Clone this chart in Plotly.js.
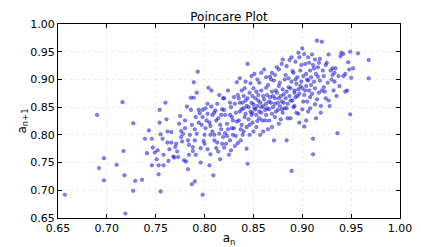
<!DOCTYPE html>
<html>
<head>
<meta charset="utf-8">
<script src="https://cdn.plot.ly/plotly-3.0.1.min.js"></script>
<style>html,body{margin:0;padding:0;background:#fff;}#chart{width:421px;height:247px;}</style>
</head>
<body>
<div id="chart"></div>
<script>
// Poincare plot points [a_n, a_n+1]
const pointsSparse = [
[0.657,0.692],[0.690,0.836],[0.692,0.740],[0.697,0.718],[0.697,0.758],[0.710,0.746],[0.716,0.859],[0.717,0.771],
[0.718,0.727],[0.719,0.658],[0.727,0.821],[0.727,0.699],[0.729,0.717],[0.736,0.719],[0.739,0.793],[0.741,0.767],
[0.743,0.808],[0.746,0.793],[0.746,0.745],[0.747,0.777],[0.749,0.768],[0.751,0.756],[0.752,0.772],[0.753,0.745],
[0.753,0.729],[0.754,0.845],[0.754,0.822],[0.755,0.801],[0.755,0.698],[0.757,0.793],[0.758,0.764],[0.758,0.745],
[0.760,0.858],[0.761,0.828],[0.762,0.806],[0.762,0.786],[0.763,0.753],[0.764,0.774],[0.766,0.805],[0.768,0.761],
[0.769,0.759],[0.770,0.778],[0.771,0.784],[0.773,0.760],[0.774,0.820],[0.775,0.834],[0.776,0.807],[0.777,0.788],
[0.778,0.802],[0.779,0.754],[0.780,0.826],[0.781,0.752],[0.782,0.851],[0.783,0.738],[0.783,0.790],[0.784,0.764],
[0.785,0.800],[0.786,0.845],[0.786,0.867],[0.787,0.818],[0.787,0.711],[0.788,0.778],[0.788,0.771],[0.789,0.895],
[0.789,0.867],[0.790,0.716],[0.790,0.810],[0.791,0.764],[0.791,0.832],[0.792,0.876],[0.793,0.914],[0.794,0.845],
[0.795,0.839],[0.796,0.750],[0.797,0.818],[0.798,0.692],[0.798,0.845],[0.799,0.789],[0.800,0.800]
];
const pointsMiddle = [
[0.801,0.848],[0.802,0.826],[0.803,0.774],[0.804,0.885],[0.805,0.745],[0.806,0.800],[0.806,0.765],[0.807,0.851],
[0.807,0.880],[0.808,0.836],[0.809,0.727],[0.810,0.790],[0.810,0.840],[0.812,0.826],[0.813,0.786],[0.814,0.770],
[0.815,0.802],[0.815,0.872],[0.816,0.756],[0.817,0.810],[0.818,0.784],[0.819,0.866],[0.820,0.845],[0.820,0.777],
[0.821,0.803],[0.823,0.820],[0.824,0.880],[0.825,0.764],[0.826,0.790],[0.827,0.850],[0.828,0.832],[0.829,0.800],
[0.830,0.812],[0.830,0.868],[0.831,0.780],[0.832,0.840],[0.833,0.895],[0.834,0.785],[0.835,0.826],[0.836,0.858],
[0.837,0.810],[0.838,0.846],[0.838,0.880],[0.839,0.800],[0.840,0.870],[0.841,0.832],[0.842,0.862],[0.843,0.775],
[0.844,0.928],[0.844,0.748],[0.845,0.850],[0.846,0.818],[0.847,0.893],[0.848,0.836],[0.849,0.870],[0.850,0.806],
[0.850,0.855],[0.851,0.910],[0.852,0.846],[0.853,0.878],[0.854,0.825],[0.855,0.862],[0.856,0.894],[0.857,0.800],
[0.858,0.840],[0.858,0.850],[0.860,0.870],[0.861,0.918],[0.862,0.826],[0.863,0.885],[0.864,0.848],[0.865,0.810],
[0.866,0.860],[0.867,0.905],[0.868,0.900],[0.869,0.838],[0.870,0.870],[0.871,0.790],[0.872,0.856],[0.873,0.880],
[0.874,0.922],[0.875,0.845],[0.876,0.866],[0.877,0.894],[0.878,0.828],[0.879,0.860],[0.880,0.936],[0.881,0.873],
[0.882,0.848],[0.883,0.908],[0.884,0.790],[0.885,0.830],[0.886,0.886],[0.887,0.935],[0.888,0.862],[0.889,0.735],
[0.890,0.915],[0.891,0.850],[0.892,0.876],[0.893,0.900],[0.894,0.840],[0.895,0.870],[0.896,0.948],[0.897,0.822],
[0.898,0.888],[0.899,0.926],[0.900,0.956]
];
const pointsRight = [
[0.901,0.860],[0.902,0.815],[0.903,0.880],[0.904,0.910],[0.905,0.900],[0.906,0.842],[0.907,0.930],[0.908,0.868],
[0.909,0.890],[0.910,0.945],[0.911,0.793],[0.911,0.765],[0.912,0.920],[0.913,0.855],[0.914,0.830],[0.915,0.970],
[0.916,0.905],[0.917,0.876],[0.918,0.937],[0.919,0.840],[0.920,0.968],[0.921,0.916],[0.922,0.886],[0.924,0.866],
[0.925,0.930],[0.927,0.945],[0.928,0.852],[0.930,0.900],[0.931,0.920],[0.932,0.880],[0.933,0.912],[0.935,0.870],
[0.936,0.803],[0.937,0.906],[0.939,0.942],[0.940,0.948],[0.942,0.946],[0.944,0.910],[0.946,0.880],[0.947,0.931],
[0.948,0.918],[0.949,0.950],[0.949,0.837],[0.950,0.903],[0.957,0.947],[0.968,0.935],[0.968,0.902]
];
const pointsCore = [
[0.826,0.836],[0.828,0.812],[0.831,0.856],[0.833,0.824],[0.835,0.866],[0.836,0.842],[0.838,0.818],[0.839,0.858],
[0.840,0.848],[0.841,0.884],[0.842,0.838],[0.843,0.852],[0.844,0.866],[0.845,0.828],[0.846,0.876],[0.847,0.842],
[0.848,0.858],[0.849,0.822],[0.850,0.884],[0.851,0.848],[0.852,0.866],[0.853,0.836],[0.854,0.852],[0.855,0.872],
[0.856,0.842],[0.857,0.858],[0.858,0.880],[0.859,0.826],[0.860,0.852],[0.861,0.864],[0.862,0.845],[0.863,0.856],
[0.864,0.872],[0.865,0.890],[0.866,0.846],[0.867,0.868],[0.868,0.858],[0.869,0.878],[0.870,0.850],[0.871,0.898],
[0.872,0.866],[0.873,0.842],[0.874,0.876],[0.875,0.858],[0.876,0.888],[0.877,0.852],[0.878,0.870],[0.879,0.846],
[0.880,0.882],[0.881,0.858],[0.882,0.900],[0.883,0.866],[0.884,0.878],[0.885,0.856],[0.886,0.902],[0.887,0.870],
[0.888,0.884],[0.889,0.896],[0.890,0.862],[0.891,0.912],[0.892,0.880],[0.893,0.868],[0.894,0.892],[0.895,0.904],
[0.896,0.882],[0.897,0.874],[0.898,0.916],[0.899,0.896],[0.900,0.884],[0.901,0.906],[0.902,0.872],[0.903,0.928],
[0.904,0.888],[0.905,0.860],[0.906,0.898],[0.907,0.880],[0.908,0.916],[0.909,0.904],[0.910,0.874],[0.911,0.926],
[0.912,0.896],[0.913,0.884],[0.914,0.910],[0.916,0.922],[0.918,0.898],[0.920,0.880],[0.922,0.906],[0.924,0.926],
[0.926,0.894],[0.929,0.916],[0.931,0.908],[0.934,0.920]
];
const pointsSpread = [
[0.801,0.812],[0.803,0.838],[0.805,0.822],[0.808,0.806],[0.811,0.844],[0.812,0.776],[0.814,0.830],[0.816,0.818],
[0.818,0.846],[0.819,0.796],[0.821,0.836],[0.822,0.784],[0.824,0.810],[0.826,0.858],[0.827,0.772],[0.829,0.826],
[0.832,0.798],[0.834,0.872],[0.837,0.790],[0.840,0.806],[0.843,0.814],[0.846,0.800],[0.849,0.840],[0.853,0.814],
[0.856,0.830],[0.860,0.806],[0.863,0.836],[0.866,0.826],[0.869,0.814],[0.872,0.832],[0.876,0.820],[0.880,0.840],
[0.884,0.848],[0.888,0.830],[0.892,0.852],[0.896,0.838],[0.900,0.846],[0.904,0.826],[0.908,0.848],[0.915,0.864],
[0.919,0.852],[0.923,0.878],[0.927,0.862],[0.933,0.896],[0.938,0.888],[0.942,0.906],[0.944,0.878],[0.952,0.920],
[0.836,0.902],[0.842,0.896],[0.848,0.906],[0.854,0.900],[0.858,0.912],[0.863,0.904],[0.869,0.912],[0.872,0.908],
[0.876,0.918],[0.879,0.928],[0.884,0.924],[0.889,0.940],[0.893,0.932],[0.897,0.940],[0.902,0.946],[0.906,0.940],
[0.913,0.936],[0.917,0.930],
[0.766,0.786],[0.772,0.770],[0.776,0.796],[0.780,0.812],[0.784,0.782],[0.790,0.790],[0.792,0.802],[0.794,0.822],
[0.796,0.776],[0.798,0.832],[0.800,0.784],[0.803,0.856],[0.806,0.816],[0.810,0.800],[0.813,0.856],[0.817,0.836],
[0.820,0.866],[0.823,0.798]
];
const tickVals = [0.65,0.70,0.75,0.80,0.85,0.90,0.95,1.00];
const tickText = ['0.65','0.70','0.75','0.80','0.85','0.90','0.95','1.00'];

const all = [].concat(pointsSparse, pointsMiddle, pointsRight, pointsCore, pointsSpread);
const xs = all.map(p => p[0]);
const ys = all.map(p => p[1]);

const font = {family: 'DejaVu Sans, sans-serif', size: 11, color: '#000'};
const axisCommon = {
  range: [0.65, 1.00],
  tickvals: tickVals, ticktext: tickText,
  ticks: 'inside', ticklen: 4, tickwidth: 1, tickcolor: '#000',
  showline: true, linecolor: '#000', linewidth: 1, mirror: 'ticks',
  showgrid: true, gridcolor: 'rgba(0,0,0,0.07)', griddash: 'dot', gridwidth: 1,
  zeroline: false, tickfont: font, automargin: false
};

Plotly.newPlot('chart', [{
  type: 'scatter', mode: 'markers', x: xs, y: ys,
  marker: {size: 3.6, color: 'rgba(30,30,255,0.55)', line: {width: 0.5, color: 'rgba(0,0,120,0.55)'}},
  hoverinfo: 'skip'
}], {
  width: 421, height: 247,
  margin: {l: 58, r: 21, t: 24, b: 29, pad: 0},
  paper_bgcolor: '#fff', plot_bgcolor: '#fff',
  showlegend: false,
  title: {text: 'Poincare Plot', font: {family: 'DejaVu Sans, sans-serif', size: 12, color: '#000'},
          x: 0.5, xref: 'paper', y: 0.93, yref: 'container', yanchor: 'middle'},
  xaxis: Object.assign({}, axisCommon, {
    title: {text: 'a<sub>n</sub>', font: {family: 'DejaVu Sans, sans-serif', size: 12, color: '#000'}, standoff: 0}
  }),
  yaxis: Object.assign({}, axisCommon, {
    title: {text: 'a<sub>n+1</sub>', font: {family: 'DejaVu Sans, sans-serif', size: 12, color: '#000'}, standoff: 0}
  })
}, {staticPlot: true, displayModeBar: false});
</script>
</body>
</html>
